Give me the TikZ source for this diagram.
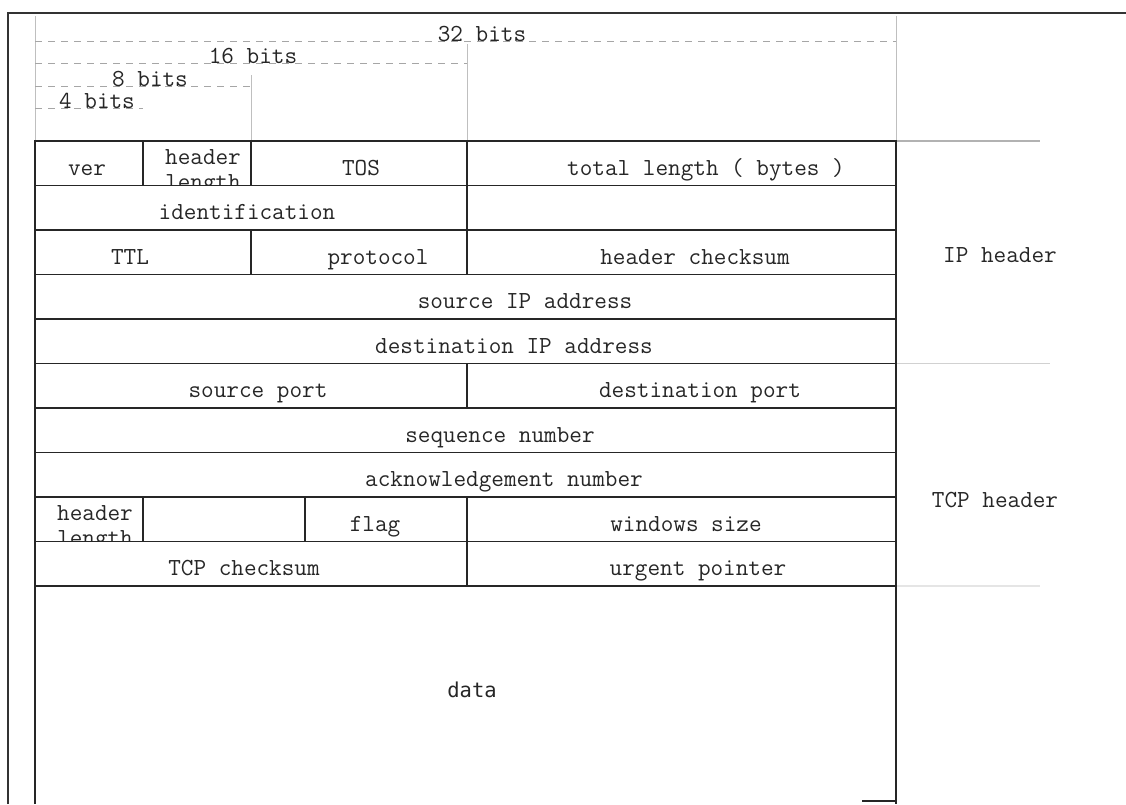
\documentclass[tikz,border=0pt]{standalone}
\usepackage{fontspec}
\newfontfamily\datafont{DejaVu Sans Mono}
\begin{document}
\begin{tikzpicture}[x=1pt,y=-1pt,
  cell/.style={draw=black!85,line width=1.6pt},
  lbl/.style={font=\ttfamily\fontsize{24.5}{27}\selectfont,text=black!85,inner sep=0pt,anchor=base},
  blbl/.style={lbl,fill=white,inner xsep=1pt},
  guide/.style={draw=black!35,line width=0.8pt,dash pattern=on 7pt off 6pt},
  vguide/.style={draw=black!25,line width=0.8pt},
  sep/.style={draw=black!30,line width=1.2pt}]
\useasboundingbox (0,0) rectangle (1126,804);
% outer frame
\draw[draw=black!80,line width=2pt] (8,804) -- (8,13) -- (1126,13);
% vertical guides above table
\draw[vguide] (35,16) -- (35,141);
\draw[vguide] (251,75) -- (251,141);
\draw[vguide] (467,44) -- (467,141);
\draw[vguide] (896,16) -- (896,141);
% dashed width guides
\draw[guide] (35,41) -- (896,41);
\draw[guide] (35,63) -- (467,63);
\draw[guide] (35,86) -- (251,86);
\draw[guide] (35,108) -- (143,108);
\node[blbl] (b32) at (482,41) {32 bits};
\node[blbl] (b16) at (253,63) {16 bits};
\node[blbl] (b8) at (150,86) {8 bits};
\node[blbl] (b4) at (97,108) {4 bits};
% right separators
\draw[sep] (896,141) -- (1040,141);
\draw[sep,draw=black!18] (896,363.5) -- (1050,363.5);
\draw[sep,draw=black!10] (896,586) -- (1040,586);
% header length (clipped)
\begin{scope}
\clip (143,141) rectangle (251,185.5);
\node[lbl] (hl1) at (203,164) {header};
\node[lbl] (hl2) at (203,189) {length};
\end{scope}
\begin{scope}
\clip (35,497) rectangle (143,541.5);
\node[lbl] (thl1) at (95,520) {header};
\node[lbl] (thl2) at (95,545) {length};
\end{scope}
% cells
\draw[cell] (35,141) rectangle (143,185.5);
\draw[cell] (143,141) rectangle (251,185.5);
\draw[cell] (251,141) rectangle (467,185.5);
\draw[cell] (467,141) rectangle (896,185.5);
\draw[cell] (35,185.5) rectangle (467,230);
\draw[cell] (467,185.5) rectangle (896,230);
\draw[cell] (35,230) rectangle (251,274.5);
\draw[cell] (251,230) rectangle (467,274.5);
\draw[cell] (467,230) rectangle (896,274.5);
\draw[cell] (35,274.5) rectangle (896,319);
\draw[cell] (35,319) rectangle (896,363.5);
\draw[cell] (35,363.5) rectangle (467,408);
\draw[cell] (467,363.5) rectangle (896,408);
\draw[cell] (35,408) rectangle (896,452.5);
\draw[cell] (35,452.5) rectangle (896,497);
\draw[cell] (35,497) rectangle (143,541.5);
\draw[cell] (143,497) rectangle (305,541.5);
\draw[cell] (305,497) rectangle (467,541.5);
\draw[cell] (467,497) rectangle (896,541.5);
\draw[cell] (35,541.5) rectangle (467,586);
\draw[cell] (467,541.5) rectangle (896,586);
\draw[cell] (35,804) -- (35,586) -- (896,586) -- (896,804);
\draw[cell] (862,801) -- (896,801);
% labels
\node[lbl] (ver) at (87,175) {ver};
\node[lbl] (tos) at (361,175) {TOS};
\node[lbl] (tlen) at (706,175) {total length ( bytes )};
\node[lbl] (ident) at (247,219.5) {identification};
\node[lbl] (ttl) at (130,264) {TTL};
\node[lbl] (proto) at (378,264) {protocol};
\node[lbl] (hcs) at (695,264) {header checksum};
\node[lbl] (srcip) at (525,308.5) {source IP address};
\node[lbl] (dstip) at (514,353) {destination IP address};
\node[lbl] (sport) at (258,397.5) {source port};
\node[lbl] (dport) at (700,397.5) {destination port};
\node[lbl] (seq) at (500,442) {sequence number};
\node[lbl] (ack) at (504,486.5) {acknowledgement number};
\node[lbl] (flag) at (375,531) {flag};
\node[lbl] (win) at (686,531) {windows size};
\node[lbl] (tcs) at (244,575.5) {TCP checksum};
\node[lbl] (urg) at (698,575.5) {urgent pointer};
\node[lbl,font=\datafont\fontsize{20.5}{24}\selectfont] (data) at (472,697) {data};
\node[lbl] (iph) at (1000,262) {IP header};
\node[lbl] (tcph) at (995,507) {TCP header};
\end{tikzpicture}
\end{document}
